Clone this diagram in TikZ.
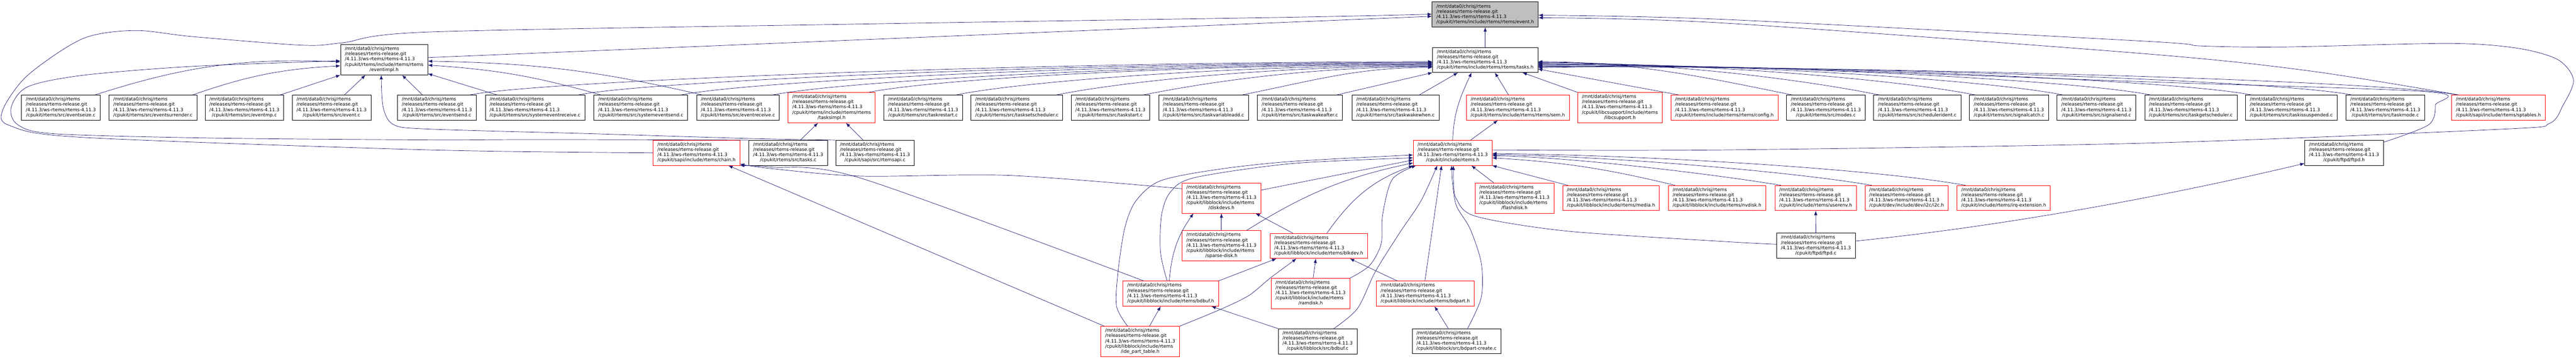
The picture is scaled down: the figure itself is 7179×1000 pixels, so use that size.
\documentclass[tikz,border=0pt]{standalone}
\usepackage{fontspec}
\setmainfont{DejaVu Sans}
\usetikzlibrary{arrows.meta}
\definecolor{edgeblue}{HTML}{191970}
\definecolor{truncred}{HTML}{FF0000}
\newcommand{\rtpath}[1]{\begin{tabular}{@{}l@{}}/mnt/data0/chrisj/rtems\\/releases/rtems-release.git\\/4.11.3/ws-rtems/rtems-4.11.3\\\multicolumn{1}{@{}c@{}}{#1}\end{tabular}}
\newcommand{\rtpathx}[2]{\begin{tabular}{@{}l@{}}/mnt/data0/chrisj/rtems\\/releases/rtems-release.git\\/4.11.3/ws-rtems/rtems-4.11.3\\#1\\\multicolumn{1}{@{}c@{}}{#2}\end{tabular}}
\tikzset{
	incl/.style={-{Latex[length=12pt,width=9pt]}, draw=edgeblue, line width=1pt}, % include edge
	filebox/.style={draw=black, fill=white, line width=1pt, inner xsep=12pt, inner ysep=6pt, font=\fontsize{12.8}{14.5}\selectfont},
	truncbox/.style={filebox, draw=truncred},
	rootbox/.style={filebox, fill=black!25},
}
\begin{document}
\begin{tikzpicture}[x=1pt,y=1pt]
\useasboundingbox (0,0) rectangle (7179,-1000);
% top
\node[rootbox] (evh) at (4139,-40.5) {\rtpath{/cpukit/rtems/include/rtems/rtems/event.h}};
\node[filebox] (evimpl) at (1070.5,-166.5) {\rtpathx{/cpukit/rtems/include/rtems/rtems}{/eventimpl.h}};
\node[filebox] (tasksh) at (4139,-167) {\rtpath{/cpukit/rtems/include/rtems/rtems/tasks.h}};
% row of sources
\node[filebox] (evseize) at (169.5,-300) {\rtpath{/cpukit/rtems/src/eventseize.c}};
\node[filebox] (evsurr) at (426,-300) {\rtpath{/cpukit/rtems/src/eventsurrender.c}};
\node[filebox] (evmp) at (681,-300) {\rtpath{/cpukit/rtems/src/eventmp.c}};
\node[filebox] (evc) at (924,-300) {\rtpath{/cpukit/rtems/src/event.c}};
\node[filebox] (evsend) at (1217.5,-300) {\rtpath{/cpukit/rtems/src/eventsend.c}};
\node[filebox] (sysevrecv) at (1491,-300) {\rtpath{/cpukit/rtems/src/systemeventreceive.c}};
\node[filebox] (sysevsend) at (1785.5,-300) {\rtpath{/cpukit/rtems/src/systemeventsend.c}};
\node[filebox] (evrecv) at (2056.5,-300) {\rtpath{/cpukit/rtems/src/eventreceive.c}};
\node[truncbox] (tasksimpl) at (2317.5,-300) {\rtpathx{/cpukit/rtems/include/rtems/rtems}{/tasksimpl.h}};
\node[filebox] (taskrestart) at (2572.5,-300) {\rtpath{/cpukit/rtems/src/taskrestart.c}};
\node[filebox] (tasksetsched) at (2834,-300) {\rtpath{/cpukit/rtems/src/tasksetscheduler.c}};
\node[filebox] (taskstart) at (3094.5,-300) {\rtpath{/cpukit/rtems/src/taskstart.c}};
\node[filebox] (taskvaradd) at (3354,-300) {\rtpath{/cpukit/rtems/src/taskvariableadd.c}};
\node[filebox] (taskwakeafter) at (3622.5,-300) {\rtpath{/cpukit/rtems/src/taskwakeafter.c}};
\node[filebox] (taskwakewhen) at (3889,-300) {\rtpath{/cpukit/rtems/src/taskwakewhen.c}};
\node[truncbox] (semh) at (4230,-300) {\rtpath{/cpukit/rtems/include/rtems/rtems/sem.h}};
\node[truncbox] (libcsup) at (4514.5,-300) {\rtpathx{/cpukit/libcsupport/include/rtems}{/libcsupport.h}};
\node[truncbox] (configh) at (4805.5,-300) {\rtpath{/cpukit/rtems/include/rtems/rtems/config.h}};
\node[filebox] (modesc) at (5088.5,-300) {\rtpath{/cpukit/rtems/src/modes.c}};
\node[filebox] (schedident) at (5343,-300) {\rtpath{/cpukit/rtems/src/schedulerident.c}};
\node[filebox] (sigcatch) at (5599,-300) {\rtpath{/cpukit/rtems/src/signalcatch.c}};
\node[filebox] (sigsend) at (5842.5,-300) {\rtpath{/cpukit/rtems/src/signalsend.c}};
\node[filebox] (taskgetsched) at (6105.5,-300) {\rtpath{/cpukit/rtems/src/taskgetscheduler.c}};
\node[filebox] (taskissusp) at (6385.5,-300) {\rtpath{/cpukit/rtems/src/taskissuspended.c}};
\node[filebox] (taskmodec) at (6647.5,-300) {\rtpath{/cpukit/rtems/src/taskmode.c}};
\node[truncbox] (sptables) at (6962.5,-300) {\rtpath{/cpukit/sapi/include/rtems/sptables.h}};
% third row
\node[truncbox] (chainh) at (1941,-426) {\rtpath{/cpukit/sapi/include/rtems/chain.h}};
\node[filebox] (tasksc) at (2196.5,-426) {\rtpath{/cpukit/rtems/src/tasks.c}};
\node[filebox] (rtemsapi) at (2438.5,-426) {\rtpath{/cpukit/sapi/src/rtemsapi.c}};
\node[truncbox] (rtemsh) at (4048.5,-426) {\rtpath{/cpukit/include/rtems.h}};
\node[filebox] (ftpdh) at (6532.5,-426) {\rtpath{/cpukit/ftpd/ftpd.h}};
% libblock and friends
\node[truncbox] (diskdevs) at (3404,-552) {\rtpathx{/cpukit/libblock/include/rtems}{/diskdevs.h}};
\node[truncbox] (flashdisk) at (4220.5,-552) {\rtpathx{/cpukit/libblock/include/rtems}{/flashdisk.h}};
\node[truncbox] (mediah) at (4489.5,-552) {\rtpath{/cpukit/libblock/include/rtems/media.h}};
\node[truncbox] (nvdisk) at (4785,-552) {\rtpath{/cpukit/libblock/include/rtems/nvdisk.h}};
\node[truncbox] (userenv) at (5060,-552) {\rtpath{/cpukit/include/rtems/userenv.h}};
\node[truncbox] (itwoc) at (5313.5,-552) {\rtpath{/cpukit/dev/include/dev/i2c/i2c.h}};
\node[truncbox] (irqext) at (5584,-552) {\rtpath{/cpukit/include/rtems/irq-extension.h}};
\node[truncbox] (sparsedisk) at (3404,-685) {\rtpathx{/cpukit/libblock/include/rtems}{/sparse-disk.h}};
\node[truncbox] (blkdev) at (3675,-685.5) {\rtpath{/cpukit/libblock/include/rtems/blkdev.h}};
\node[filebox] (ftpdc) at (5060.5,-685) {\rtpath{/cpukit/ftpd/ftpd.c}};
\node[truncbox] (bdbufh) at (3262.5,-818.5) {\rtpath{/cpukit/libblock/include/rtems/bdbuf.h}};
\node[truncbox] (ramdisk) at (3652.5,-818) {\rtpathx{/cpukit/libblock/include/rtems}{/ramdisk.h}};
\node[truncbox] (bdparth) at (3972,-818.5) {\rtpath{/cpukit/libblock/include/rtems/bdpart.h}};
\node[truncbox] (idepart) at (3177.5,-952) {\rtpathx{/cpukit/libblock/include/rtems}{/ide\_part\_table.h}};
\node[filebox] (bdbufc) at (3672,-951.5) {\rtpath{/cpukit/libblock/src/bdbuf.c}};
\node[filebox] (bdpartcreate) at (4059,-951) {\rtpath{/cpukit/libblock/src/bdpart-create.c}};

% edges into event.h
\draw[incl] (tasksh) -- (evh);
\draw[incl] ([yshift=6pt]evimpl.east) -- ([yshift=-5pt]evh.west);
\draw[incl] plot[smooth] coordinates {(chainh.west) (1200,-418) (230,-383) (27,-350) (8,-306) (77,-210) (230,-108) (375,-85) (536,-102) (842,-126) (956,-119) (1200,-89) (2400,-67) (3600,-48) ([yshift=1pt]evh.west)};
\draw[incl] plot[smooth] coordinates {([yshift=8pt]rtemsh.east) (4800,-418) (5980,-399) (6975,-360) (7105,-344) (7143,-293) (7172,-223) (7128,-166) (7013,-134) (6822,-121) (6363,-131) (6133,-128) (5980,-115) (4800,-54) ([yshift=-2pt]evh.east)};
\draw[incl] plot[smooth] coordinates {([xshift=20pt]sptables.north west) (6439,-198) (5980,-150) (4800,-64) ([yshift=-9pt]evh.east)};

% edges into eventimpl.h
\draw[incl] ([xshift=-15pt]evseize.north east) to[bend left=10] ([yshift=-6pt]evimpl.west);
\draw[incl] ([xshift=-12pt]evsurr.north east) to[bend left=8] ([yshift=-17pt]evimpl.west);
\draw[incl] ([xshift=-10pt]evmp.north east) -- (evimpl.south west);
\draw[incl] ([xshift=36pt]evc.north) -- ([xshift=-52pt]evimpl.south);
\draw[incl] ([xshift=70pt]evsend.north west) -- ([xshift=50pt]evimpl.south);
\draw[incl] ([xshift=33pt]sysevrecv.north west) -- ([yshift=4pt]evimpl.south east);
\draw[incl] ([xshift=20pt]sysevsend.north west) to[bend right=6] ([yshift=-15pt]evimpl.east);
\draw[incl] ([xshift=16pt]evrecv.north west) to[bend right=6] ([yshift=-4pt]evimpl.east);
\draw[incl] plot[smooth] coordinates {(tasksc.north west) (1500,-389) (1200,-390) (600,-385) (153,-373) (50,-348) (31,-300) (77,-242) (230,-210) (536,-185) ([yshift=-3pt]evimpl.west)};
\draw[incl] plot[smooth] coordinates {(rtemsapi.north west) (2084,-386) (1659,-373) (1200,-360) (1098,-348) (1068,-300) ([xshift=-8pt]evimpl.south)};

% edges into tasks.h
\foreach \n/\c [count=\i] in {evsend/1070,sysevrecv/950,sysevsend/840,evrecv/735,tasksimpl/630,taskrestart/530,tasksetsched/420,taskstart/320,taskvaradd/210}
	\draw[incl] ([xshift=-18pt]\n.north east) .. controls +(200,40) and +(-\c,0) .. ([yshift={-3pt-2pt*\i}]tasksh.west);
\foreach \n/\c [count=\i] in {modesc/280,schedident/380,sigcatch/490,sigsend/585,taskgetsched/680,taskissusp/795,taskmodec/905,sptables/1025}
	\draw[incl] ([xshift=16pt]\n.north west) .. controls +(-200,40) and +(\c,0) .. ([yshift={-3pt-2pt*\i}]tasksh.east);
\draw[incl] ([xshift=-16pt]taskwakeafter.north east) -- (tasksh.south west);
\draw[incl] ([xshift=-55pt]taskwakewhen.north east) -- ([xshift=-76pt]tasksh.south);
\draw[incl] (rtemsh.north) to[out=88,in=-115] ([xshift=-38pt]tasksh.south);
\draw[incl] ([xshift=-26pt]semh.north) -- ([xshift=27pt]tasksh.south);
\draw[incl] (libcsup.north west) -- ([xshift=104pt]tasksh.south);
\draw[incl] ([xshift=23pt]configh.north west) -- ([yshift=10pt]tasksh.south east);
\draw[incl] plot[smooth] coordinates {([yshift=-6pt]ftpdh.north east) (6768,-348) (6787,-293) (6768,-256) (5980,-228) (4800,-187) ([yshift=-22pt]tasksh.east)};

% tasksimpl.h and sem.h
\draw[incl] ([xshift=34pt]tasksc.north) -- ([xshift=-38pt]tasksimpl.south);
\draw[incl] ([xshift=-33pt]rtemsapi.north) -- ([xshift=40pt]tasksimpl.south);
\draw[incl] ([xshift=50pt]rtemsh.north) -- ([xshift=-56pt]semh.south);

% edges into rtems.h
\draw[incl] ([xshift=23pt]blkdev.north) to[out=55,in=200] (rtemsh.south west);
\draw[incl] plot[smooth] coordinates {(ramdisk.north east) (3817,-740) (3849,-680) (3853,-600) (3880,-500) ([xshift=8pt]rtemsh.south west)};
\draw[incl] plot[smooth] coordinates {([xshift=45pt]bdbufc.north) (3783,-860) (3833,-757) (3900,-650) (3960,-560) ([xshift=-43pt]rtemsh.south)};
\draw[incl] ([xshift=-1pt]bdparth.north) -- ([xshift=-31pt]rtemsh.south);
\draw[incl] plot[smooth] coordinates {([xshift=31pt]bdpartcreate.north) (4128,-829) (4128,-733) (4097,-638) (4059,-574) (4048,-510) ([xshift=-3pt]rtemsh.south)};
\draw[incl] plot[smooth] coordinates {([yshift=4pt]ftpdc.west) (4800,-673) (4365,-644) (4113,-603) (4059,-555) (4051,-510) ([xshift=2pt]rtemsh.south)};
\draw[incl] ([xshift=-58pt]flashdisk.north) -- ([xshift=52pt]rtemsh.south);
\draw[incl] ([xshift=15pt]mediah.north west) -- (rtemsh.south east);
\draw[incl] ([xshift=19pt]nvdisk.north west) to[bend right=5] ([yshift=-14pt]rtemsh.east);
\draw[incl] ([xshift=17pt]userenv.north west) .. controls +(-150,25) and +(250,-5) .. ([yshift=-8pt]rtemsh.east);
\draw[incl] ([xshift=19pt]itwoc.north west) .. controls +(-200,35) and +(350,-5) .. ([yshift=-5pt]rtemsh.east);
\draw[incl] ([xshift=24pt]irqext.north west) .. controls +(-250,45) and +(450,-5) .. ([yshift=-2pt]rtemsh.east);
\draw[incl] ([yshift=22pt]diskdevs.east) -- ([yshift=-20pt]rtemsh.west);
\draw[incl] ([xshift=-40pt]sparsedisk.north east) to[bend left=10] ([yshift=-28pt]rtemsh.west);
\draw[incl] plot[smooth] coordinates {([xshift=-35pt]idepart.north) (3112,-855) (3115,-765) (3134,-638) (3165,-561) (3234,-504) (3395,-472) (3600,-450) ([yshift=-6pt]rtemsh.west)};
\draw[incl] plot[smooth] coordinates {([xshift=-10pt]bdbufh.north) (3234,-702) (3237,-600) (3262,-535) (3330,-495) (3600,-456) ([yshift=-14pt]rtemsh.west)};

% diskdevs.h and chain.h
\draw[incl] (sparsedisk) -- (diskdevs);
\draw[incl] ([xshift=-72pt]blkdev.north) -- ([xshift=-15pt]diskdevs.south east);
\draw[incl] ([xshift=-4pt]bdbufh.north) to[out=85,in=235] ([xshift=-78pt]diskdevs.south);
\draw[incl] plot[smooth] coordinates {([yshift=26pt]diskdevs.west) (2813,-489) (2400,-491) (2150,-470) ([yshift=4pt]chainh.south east)};
\draw[incl] plot[smooth] coordinates {([xshift=-75pt]bdbufh.north) (2400,-497) (2150,-466) (chainh.south east)};
\draw[incl] ([xshift=-100pt]idepart.north) -- ([xshift=89pt]chainh.south);

% blkdev.h, bdbuf.h, bdpart.h
\draw[incl] ([xshift=7pt]ramdisk.north) -- ([xshift=-8pt]blkdev.south);
\draw[incl] ([xshift=-78pt]bdparth.north) -- ([xshift=87pt]blkdev.south);
\draw[incl] (bdbufh.north east) -- ([xshift=-118pt]blkdev.south);
\draw[incl] plot[smooth] coordinates {(idepart.north east) (3400,-863) (3480,-824) (3540,-775) ([xshift=-62pt]blkdev.south)};
\draw[incl] ([xshift=26pt]idepart.north) -- ([xshift=-28pt]bdbufh.south);
\draw[incl] (bdbufc.north west) -- ([xshift=-20pt]bdbufh.south east);
\draw[incl] ([xshift=-23pt]bdpartcreate.north) -- ([xshift=26pt]bdparth.south);

% ftpd
\draw[incl] (ftpdc) -- (userenv);
\draw[incl] ([yshift=13pt]ftpdc.east) .. controls +(400,40) and +(-400,-95) .. ([yshift=6pt]ftpdh.south west);
\end{tikzpicture}
\end{document}
